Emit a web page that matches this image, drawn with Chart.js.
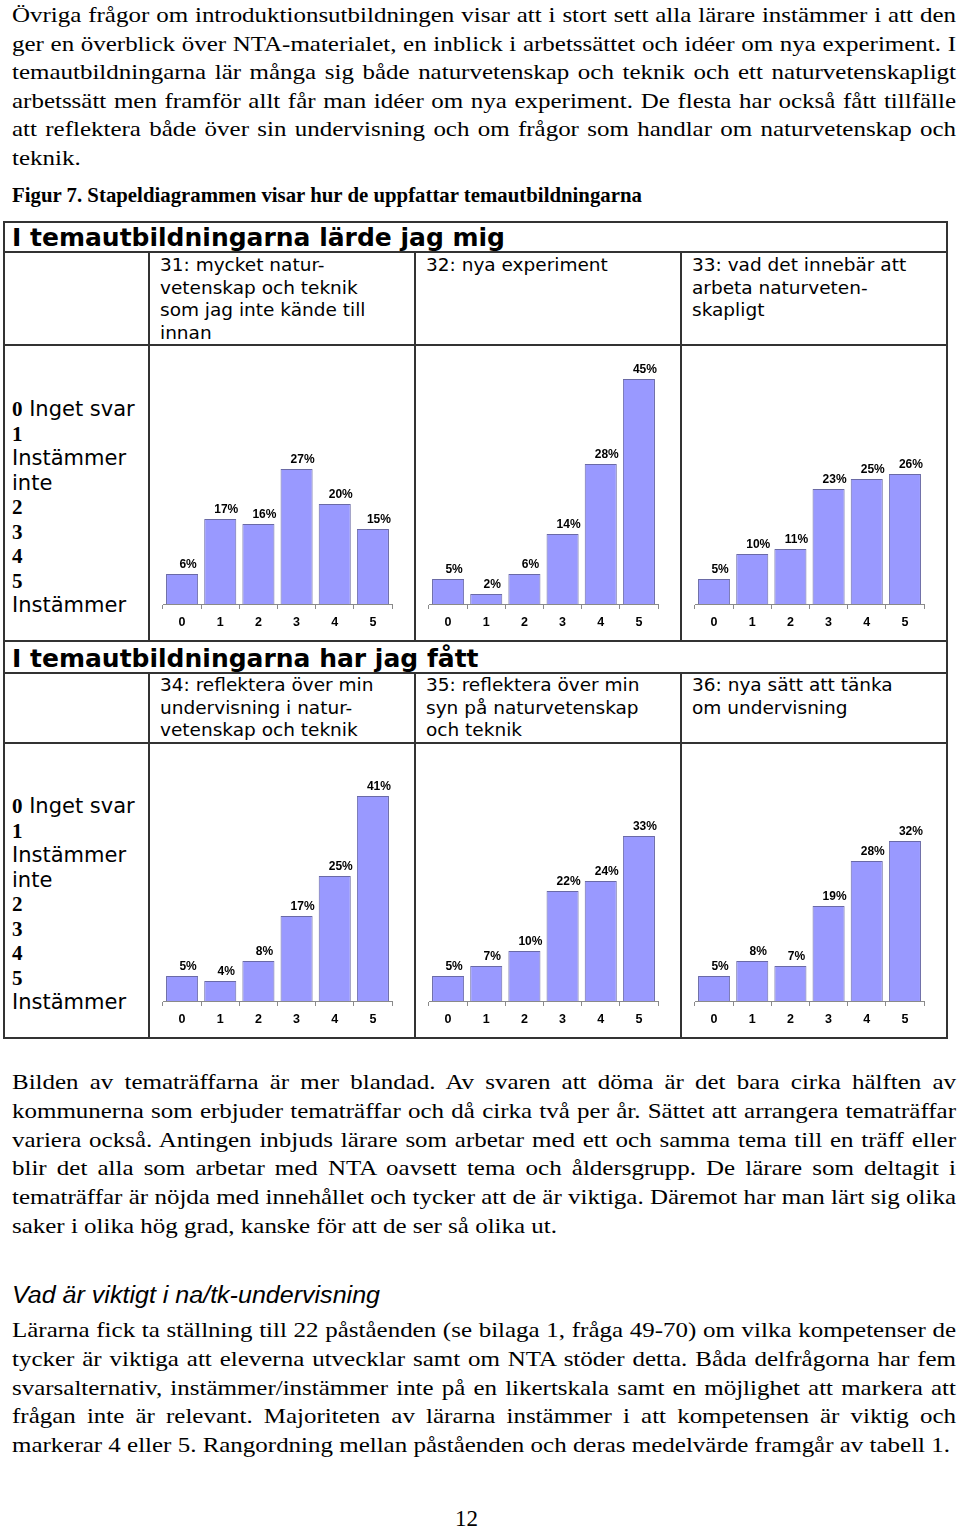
<!DOCTYPE html>
<html lang="sv">
<head>
<meta charset="utf-8">
<script src="https://cdn.jsdelivr.net/npm/chart.js@4.4.1/dist/chart.umd.min.js"></script>
<style>
  body { margin: 0; background: #fff; }
  #page { position: relative; width: 960px; height: 1528px; overflow: hidden; color: #000; }
  .abs { position: absolute; }
  .para { font-family: "Liberation Serif", "Times New Roman", serif; font-size: 22px; line-height: 28.7px; }
  .ln { white-space: nowrap; width: max-content; transform-origin: 0 0; }
  .hl { position: absolute; height: 2px; background: #333; }
  .vl { position: absolute; width: 2px; background: #333; }
  .ttl { font-family: "DejaVu Sans", Verdana, sans-serif; font-weight: bold; font-size: 25px; line-height: 25px; white-space: nowrap; }
  .hdr { font-family: "DejaVu Sans", Verdana, sans-serif; font-size: 18.5px; line-height: 22.7px; white-space: nowrap; }
  .leg { font-family: "DejaVu Sans", Verdana, sans-serif; font-size: 21px; line-height: 24.5px; white-space: nowrap; }
  .leg b { font-family: "Liberation Serif", "Times New Roman", serif; }
  canvas.cv { position: absolute; }
</style>
</head>
<body>
<div id="page">

  <div class="abs para" id="p1" style="left:12px; top:1px; line-height:28.6px;">
    <div class="ln" data-j="1">Övriga frågor om introduktionsutbildningen visar att i stort sett alla lärare instämmer i att den</div>
    <div class="ln" data-j="1">ger en överblick över NTA-materialet, en inblick i arbetssättet och idéer om nya experiment. I</div>
    <div class="ln" data-j="1">temautbildningarna lär många sig både naturvetenskap och teknik och ett naturvetenskapligt</div>
    <div class="ln" data-j="1">arbetssätt men framför allt får man idéer om nya experiment. De flesta har också fått tillfälle</div>
    <div class="ln" data-j="1">att reflektera både över sin undervisning och om frågor som handlar om naturvetenskap och</div>
    <div class="ln">teknik.</div>
  </div>

  <div class="abs para" style="left:12px; top:183px; font-size:21px; line-height:24px; font-weight:bold;">
    <div class="ln" id="caption" data-w="630">Figur 7. Stapeldiagrammen visar hur de uppfattar temautbildningarna</div>
  </div>

  <!-- table grid -->
  <div class="hl" style="left:3px; width:945px; top:221px;"></div>
  <div class="hl" style="left:3px; width:945px; top:251px;"></div>
  <div class="hl" style="left:3px; width:945px; top:344px;"></div>
  <div class="hl" style="left:3px; width:945px; top:640px;"></div>
  <div class="hl" style="left:3px; width:945px; top:672px;"></div>
  <div class="hl" style="left:3px; width:945px; top:742px;"></div>
  <div class="hl" style="left:3px; width:945px; top:1037px;"></div>
  <div class="vl" style="left:3px; top:221px; height:818px;"></div>
  <div class="vl" style="left:946px; top:221px; height:818px;"></div>
  <div class="vl" style="left:148px; top:251px; height:390px;"></div>
  <div class="vl" style="left:414px; top:251px; height:390px;"></div>
  <div class="vl" style="left:680px; top:251px; height:390px;"></div>
  <div class="vl" style="left:148px; top:672px; height:366px;"></div>
  <div class="vl" style="left:414px; top:672px; height:366px;"></div>
  <div class="vl" style="left:680px; top:672px; height:366px;"></div>

  <div class="abs ttl" style="left:12px; top:225px;">I temautbildningarna lärde jag mig</div>
  <div class="abs ttl" style="left:12px; top:646px;">I temautbildningarna har jag fått</div>

  <div class="abs hdr" style="left:160px; top:254px;">31: mycket natur-<br>vetenskap och teknik<br>som jag inte kände till<br>innan</div>
  <div class="abs hdr" style="left:426px; top:254px;">32: nya experiment</div>
  <div class="abs hdr" style="left:692px; top:254px;">33: vad det innebär att<br>arbeta naturveten-<br>skapligt</div>
  <div class="abs hdr" style="left:160px; top:674px;">34: reflektera över min<br>undervisning i natur-<br>vetenskap och teknik</div>
  <div class="abs hdr" style="left:426px; top:674px;">35: reflektera över min<br>syn på naturvetenskap<br>och teknik</div>
  <div class="abs hdr" style="left:692px; top:674px;">36: nya sätt att tänka<br>om undervisning</div>

  <div class="abs leg" style="left:12px; top:397px;"><b>0</b> Inget svar<br><b>1</b><br>Instämmer<br>inte<br><b>2</b><br><b>3</b><br><b>4</b><br><b>5</b><br>Instämmer</div>
  <div class="abs leg" style="left:12px; top:794px;"><b>0</b> Inget svar<br><b>1</b><br>Instämmer<br>inte<br><b>2</b><br><b>3</b><br><b>4</b><br><b>5</b><br>Instämmer</div>

  <canvas class="cv" id="c31" width="231" height="288" style="left:162px; top:346px;"></canvas>
  <canvas class="cv" id="c32" width="231" height="288" style="left:428px; top:346px;"></canvas>
  <canvas class="cv" id="c33" width="231" height="288" style="left:694px; top:346px;"></canvas>
  <canvas class="cv" id="c34" width="231" height="288" style="left:162px; top:743px;"></canvas>
  <canvas class="cv" id="c35" width="231" height="288" style="left:428px; top:743px;"></canvas>
  <canvas class="cv" id="c36" width="231" height="288" style="left:694px; top:743px;"></canvas>

  <div class="abs para" id="p2" style="left:12px; top:1068px; line-height:28.8px;">
    <div class="ln" data-j="1">Bilden av tematräffarna är mer blandad. Av svaren att döma är det bara cirka hälften av</div>
    <div class="ln" data-j="1">kommunerna som erbjuder tematräffar och då cirka två per år. Sättet att arrangera tematräffar</div>
    <div class="ln" data-j="1">variera också. Antingen inbjuds lärare som arbetar med ett och samma tema till en träff eller</div>
    <div class="ln" data-j="1">blir det alla som arbetar med NTA oavsett tema och åldersgrupp. De lärare som deltagit i</div>
    <div class="ln" data-j="1">tematräffar är nöjda med innehållet och tycker att de är viktiga. Däremot har man lärt sig olika</div>
    <div class="ln">saker i olika hög grad, kanske för att de ser så olika ut.</div>
  </div>

  <div class="abs" style="left:12px; top:1282px; font-family:'Liberation Sans', Arial, sans-serif; font-style:italic; font-size:23px; line-height:26px;">
    <div class="ln" id="heading" data-w="368">Vad är viktigt i na/tk-undervisning</div>
  </div>

  <div class="abs para" id="p3" style="left:12px; top:1316px; line-height:28.75px;">
    <div class="ln" data-j="1">Lärarna fick ta ställning till 22 påståenden (se bilaga 1, fråga 49-70) om vilka kompetenser de</div>
    <div class="ln" data-j="1">tycker är viktiga att eleverna utvecklar samt om NTA stöder detta. Båda delfrågorna har fem</div>
    <div class="ln" data-j="1">svarsalternativ, instämmer/instämmer inte på en likertskala samt en möjlighet att markera att</div>
    <div class="ln" data-j="1">frågan inte är relevant. Majoriteten av lärarna instämmer i att kompetensen är viktig och</div>
    <div class="ln" id="refline" data-w="938">markerar 4 eller 5. Rangordning mellan påståenden och deras medelvärde framgår av tabell 1.</div>
  </div>

  <div class="abs para" style="left:455px; top:1505px; font-size:23px;">12</div>
</div>

<script>
const categories = ["0", "1", "2", "3", "4", "5"];
const q31 = [6, 17, 16, 27, 20, 15];
const q32 = [5, 2, 6, 14, 28, 45];
const q33 = [5, 10, 11, 23, 25, 26];
const q34 = [5, 4, 8, 17, 25, 41];
const q35 = [5, 7, 10, 22, 24, 33];
const q36 = [5, 8, 7, 19, 28, 32];
const yMax = 50;

// fit the serif text to the page width, justify full lines
const lineWidth = 944;
function scaleOf(el) {
  return +el.dataset.w / el.getBoundingClientRect().width;
}
const bodyScale = scaleOf(document.getElementById("refline"));

["p1", "p2", "p3"].forEach((id) => {
  const lines = [...document.querySelectorAll(`#${id} .ln`)];
  const widths = lines.map((ln) => ln.getBoundingClientRect().width);
  lines.forEach((ln, i) => {
    if (ln.dataset.j) {
      const gaps = ln.textContent.split(" ").length - 1;
      ln.style.wordSpacing = `${(lineWidth / bodyScale - widths[i]) / gaps}px`;
    }
    ln.style.transform = `scaleX(${bodyScale})`;
  });
});
["caption", "heading"].forEach((id) => {
  const el = document.getElementById(id);
  el.style.transform = `scaleX(${scaleOf(el)})`;
});

// percent labels sit a little right of the bar centre, as in the original
const valueLabels = {
  id: "valueLabels",
  afterDatasetsDraw(chart) {
    const ctx = chart.ctx;
    const vals = chart.data.datasets[0].data;
    ctx.save();
    ctx.font = "bold 12px 'Liberation Sans', Arial, sans-serif";
    ctx.fillStyle = "#000";
    ctx.textAlign = "center";
    ctx.textBaseline = "alphabetic";
    chart.getDatasetMeta(0).data.forEach((bar, i) => {
      ctx.fillText(`${vals[i]}%`, bar.x + 6, bar.y - 6);
    });
    ctx.restore();
  },
};

function makeChart(id, values) {
  return new Chart(document.getElementById(id), {
    type: "bar",
    data: {
      labels: categories,
      datasets: [{
        data: values,
        backgroundColor: "#9999ff",
        borderColor: "#6a6aa6",
        borderWidth: 1,
        barPercentage: 0.84,
        categoryPercentage: 1,
      }],
    },
    options: {
      responsive: false,
      animation: false,
      events: [],
      layout: { padding: { top: 8, bottom: 0, left: 1, right: 1 } },
      plugins: { legend: { display: false }, tooltip: { enabled: false } },
      scales: {
        x: {
          grid: { offset: true, drawOnChartArea: false, tickLength: 5, color: "#8a8a8a" },
          border: { color: "#8a8a8a" },
          ticks: { color: "#000", padding: 6, font: { family: "'Liberation Sans', Arial, sans-serif", weight: "bold", size: 12.5 } },
          afterFit(scale) { scale.height = 30; },
        },
        y: { display: false, min: 0, max: yMax },
      },
    },
    plugins: [valueLabels],
  });
}

makeChart("c31", q31);
makeChart("c32", q32);
makeChart("c33", q33);
makeChart("c34", q34);
makeChart("c35", q35);
makeChart("c36", q36);
</script>
</body>
</html>
